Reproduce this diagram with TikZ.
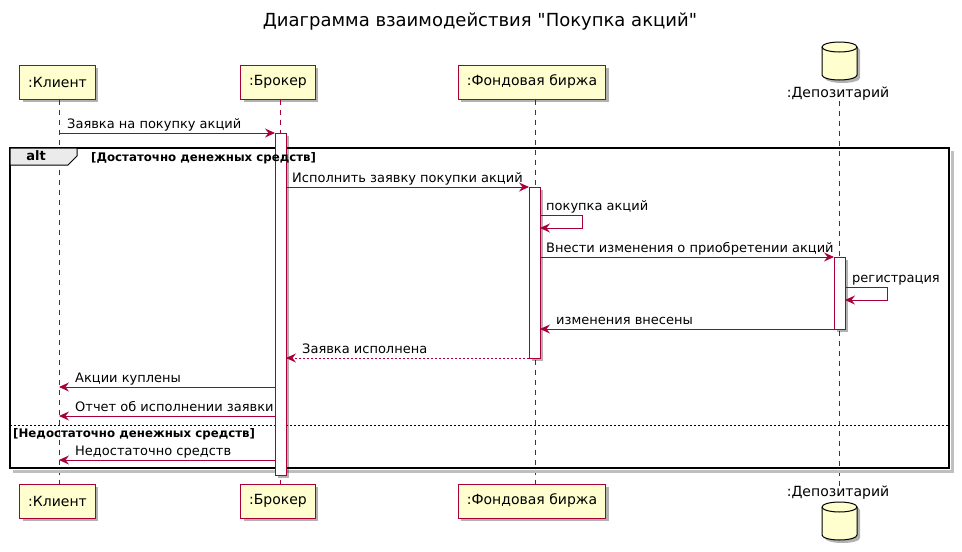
\documentclass[tikz,border=0pt]{standalone}
\usepackage{fontspec}
\setmainfont{DejaVu Sans}[Ligatures=TeXOff]
\usetikzlibrary{arrows.meta, positioning, shadows}

\definecolor{umlred}{HTML}{A80036}
\definecolor{umlfill}{HTML}{FEFECE}

\tikzset{
  umlshadow/.style={drop shadow={shadow xshift=3pt, shadow yshift=-3pt, opacity=0.3, fill=black}},
  actorbox/.style={draw=umlred, fill=umlfill, line width=1pt, minimum height=34pt, inner xsep=8.5pt,
    font=\fontsize{14}{16}\selectfont, umlshadow},
  dblabel/.style={font=\fontsize{14}{16}\selectfont, inner sep=0pt},
  lifeline/.style={draw=umlred, line width=0.8pt, dash pattern=on 5pt off 5pt},
  activ/.style={draw=umlred, fill=white, line width=0.8pt, umlshadow},
  msg/.style={draw=umlred, line width=0.9pt, -{Stealth[length=10pt, width=9pt, inset=3.5pt]}},
  reply/.style={msg, dash pattern=on 2pt off 2pt},
  msgtext/.style={font=\fontsize{13}{15}\selectfont, anchor=base west, inner sep=0pt},
  condtext/.style={font=\bfseries\fontsize{11.8}{13}\selectfont, anchor=base west, inner sep=0pt},
}

% database cylinder: #1 = x of axis, #2 = y of top
\newcommand{\dbcylinder}[2]{%
  \filldraw[fill=umlfill, draw=black, line width=1pt, umlshadow]
    (#1-17.5,#2+5) -- (#1-17.5,#2+33) arc (180:0:17.5 and 5) -- (#1+17.5,#2+5)
    arc (0:-180:17.5 and 5) -- cycle;
  \draw[line width=1pt] (#1-17.5,#2+5) arc (180:0:17.5 and 5);
}

\begin{document}
\begin{tikzpicture}[x=1pt, y=-1pt]
  \useasboundingbox (0,0) rectangle (962,552);

  % title
  \node[font=\fontsize{18}{20}\selectfont] (title) at (480,22) {Диаграмма взаимодействия "Покупка акций"};

  % participants, top and bottom
  \node[actorbox] (klient)  at (57.5,82)  {:Клиент};
  \node[actorbox] (broker)  at (278,82)   {:Брокер};
  \node[actorbox] (birzha)  at (532,82)   {:Фондовая биржа};
  \dbcylinder{839.5}{42}
  \node[dblabel]  (depo)    at (838,94)   {:Депозитарий};

  \node[actorbox] (klient2) at (57.5,501)  {:Клиент};
  \node[actorbox] (broker2) at (278,501)   {:Брокер};
  \node[actorbox] (birzha2) at (532,501)   {:Фондовая биржа};
  \node[dblabel]  (depo2)   at (838,493)   {:Депозитарий};
  \dbcylinder{839.5}{502}

  % message end points
  \coordinate (k1) at (59,133);   \coordinate (b1) at (275,133);
  \coordinate (b2) at (286,187);  \coordinate (f2) at (529,187);
  \coordinate (f3) at (540,215);  \coordinate (f3r) at (582,215);
  \coordinate (f3b) at (540,228); \coordinate (f3c) at (582,228);
  \coordinate (f4) at (540,257);  \coordinate (d4) at (834,257);
  \coordinate (d5) at (845,287);  \coordinate (d5r) at (887,287);
  \coordinate (d5b) at (845,300); \coordinate (d5c) at (887,300);
  \coordinate (d6) at (834,329);  \coordinate (f6) at (540,329);
  \coordinate (f7) at (529,358);  \coordinate (b7) at (286,358);
  \coordinate (b8) at (275,387);  \coordinate (k8) at (59,387);
  \coordinate (b9) at (275,416);  \coordinate (k9) at (59,416);
  \coordinate (b10) at (275,460); \coordinate (k10) at (59,460);
  \coordinate (lb) at (280,0); \coordinate (lf) at (535,0); \coordinate (ld) at (839,0);

  % lifelines
  \draw[lifeline] (klient.south -| k1) -- (klient2.north -| k1);
  \draw[lifeline] (broker.south -| lb) -- (broker2.north -| lb);
  \draw[lifeline] (birzha.south -| lf) -- (birzha2.north -| lf);
  \draw[lifeline] (depo.south -| ld) -- (depo2.north -| ld);

  % alt frame
  \draw[black!25, line width=3pt] (952,151) -- (952,471) -- (13,471);
  \draw[line width=1.6pt] (10,148) rectangle (949,468);
  \filldraw[fill=black!8, draw=black, line width=1pt] (10,148) -- (77,148) -- (77,156) -- (68,165) -- (10,165) -- cycle;
  \node[font=\bfseries\fontsize{13}{15}\selectfont] (alt) at (36,156) {alt};
  \draw[dash pattern=on 2pt off 2pt, line width=0.8pt] (10,425) -- (949,425);

  % activation bars
  \filldraw[activ] (275,133) rectangle (286,475);
  \filldraw[activ] (529,187) rectangle (540,358);
  \filldraw[activ] (834,257) rectangle (845,329);

  % guards
  \node[condtext] (cond1) at (91,161) {[Достаточно денежных средств]};
  \node[condtext] (cond2) at (13,437) {[Недостаточно денежных средств]};

  % messages
  \draw[msg] (k1) -- (b1);
  \node[msgtext] (t1) at (67,128) {Заявка на покупку акций};
  \draw[msg] (b2) -- (f2);
  \node[msgtext] (t2) at (292,182) {Исполнить заявку покупки акций};
  \draw[msg] (f3) -- (f3r) -- (f3c) -- (f3b);
  \node[msgtext] (t3) at (546,210) {покупка акций};
  \draw[msg] (f4) -- (d4);
  \node[msgtext] (t4) at (546,252) {Внести изменения о приобретении акций};
  \draw[msg] (d5) -- (d5r) -- (d5c) -- (d5b);
  \node[msgtext] (t5) at (852,282) {регистрация};
  \draw[msg] (d6) -- (f6);
  \node[msgtext] (t6) at (556,324) {изменения внесены};
  \draw[reply] (f7) -- (b7);
  \node[msgtext] (t7) at (302,353) {Заявка исполнена};
  \draw[msg] (b8) -- (k8);
  \node[msgtext] (t8) at (75,382) {Акции куплены};
  \draw[msg] (b9) -- (k9);
  \node[msgtext] (t9) at (75,411) {Отчет об исполнении заявки};
  \draw[msg] (b10) -- (k10);
  \node[msgtext] (t10) at (75,455) {Недостаточно средств};
\end{tikzpicture}
\end{document}
